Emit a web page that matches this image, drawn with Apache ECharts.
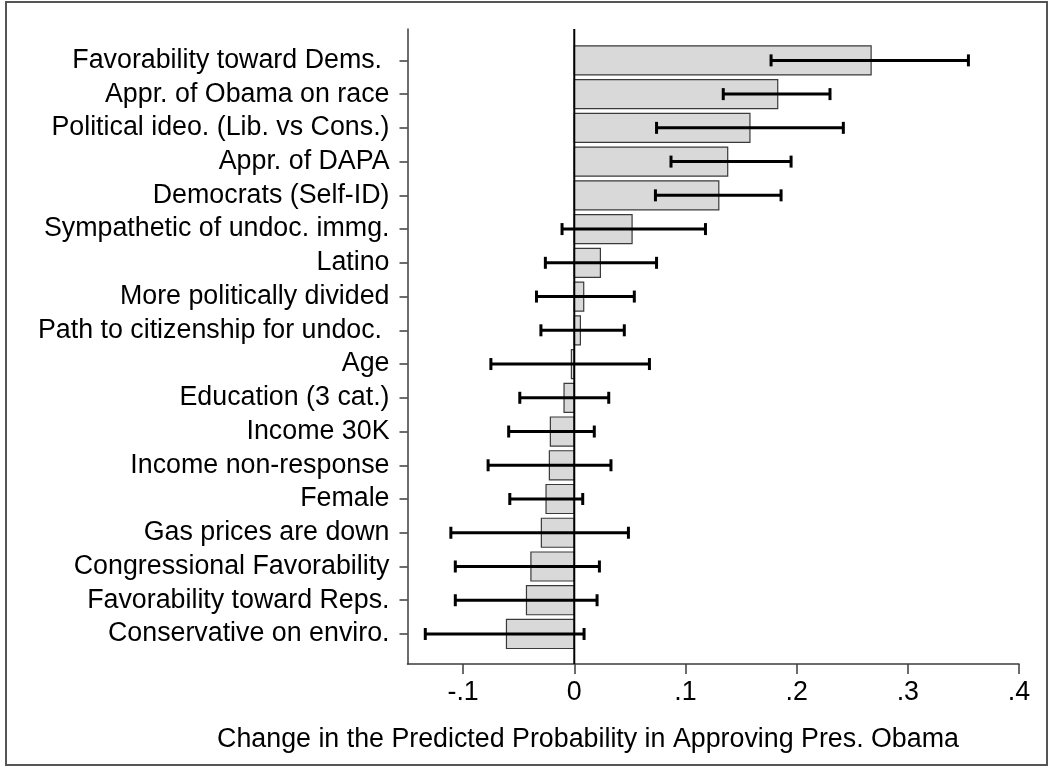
<!DOCTYPE html>
<html>
<head>
<meta charset="utf-8">
<script src="https://cdn.jsdelivr.net/npm/echarts@6/dist/echarts.min.js"></script>
<style>html,body{margin:0;padding:0;background:#fff;}#c{width:1051px;height:767px;}</style>
</head>
<body>
<div id="c"></div>
<script>
var categories = [
  "Favorability toward Dems. ",
  "Appr. of Obama on race",
  "Political ideo. (Lib. vs Cons.)",
  "Appr. of DAPA",
  "Democrats (Self-ID)",
  "Sympathetic of undoc. immg.",
  "Latino",
  "More politically divided",
  "Path to citizenship for undoc. ",
  "Age",
  "Education (3 cat.)",
  "Income 30K",
  "Income non-response",
  "Female",
  "Gas prices are down",
  "Congressional Favorability",
  "Favorability toward Reps.",
  "Conservative on enviro."
];
var estimates = [0.267, 0.183, 0.158, 0.138, 0.130, 0.052, 0.0235, 0.0085, 0.0055, -0.0026, -0.0092, -0.0215, -0.0224, -0.0254, -0.0296, -0.039, -0.043, -0.061];
var lower = [0.177, 0.134, 0.074, 0.087, 0.073, -0.011, -0.026, -0.034, -0.030, -0.075, -0.049, -0.059, -0.0775, -0.058, -0.111, -0.107, -0.107, -0.134];
var upper = [0.3545, 0.230, 0.242, 0.195, 0.186, 0.118, 0.074, 0.054, 0.045, 0.0676, 0.031, 0.018, 0.033, 0.0076, 0.0487, 0.0226, 0.0205, 0.0088];
var xTickValues = [-0.1, 0, 0.1, 0.2, 0.3, 0.4];
var xTickLabels = ["-.1", "0", ".1", ".2", ".3", ".4"];
var xTitle = "Change in the Predicted Probability in Approving Pres. Obama";

var FONT = "'Liberation Sans', Arial, Helvetica, sans-serif";
var FS = 26.8;
var catIdx = categories.map(function (c, i) { return i; });
var barHalf = 0.43;
var yMin = -0.93, yMax = 17.89;

var barData = estimates.map(function (v, i) { return [v, i]; });
var ciData = estimates.map(function (v, i) { return [lower[i], upper[i], i]; });

var chart = echarts.init(document.getElementById('c'), null, { renderer: 'canvas' });
chart.setOption({
  animation: false,
  backgroundColor: '#ffffff',
  grid: { left: 407.5, top: 29, right: 32, bottom: 103, containLabel: false },
  xAxis: {
    type: 'value', min: -0.15, max: 0.4,
    axisLine: { show: true, onZero: false, lineStyle: { color: '#3c3c3c', width: 1.5 } },
    axisTick: { show: true, length: 10, customValues: xTickValues, lineStyle: { color: '#3c3c3c', width: 1.5 } },
    axisLabel: {
      customValues: xTickValues, margin: 15, fontSize: FS, color: '#000', fontFamily: FONT,
      formatter: function (v) {
        for (var k = 0; k < xTickValues.length; k++) { if (Math.abs(xTickValues[k] - v) < 1e-9) return xTickLabels[k]; }
        return '';
      }
    },
    splitLine: { show: false }
  },
  yAxis: {
    type: 'value', inverse: true, min: yMin, max: yMax,
    axisLine: { show: true, onZero: false, lineStyle: { color: '#3c3c3c', width: 1.5 } },
    axisTick: { show: true, length: 8, customValues: catIdx, lineStyle: { color: '#3c3c3c', width: 1.5 } },
    axisLabel: {
      customValues: catIdx, margin: 18, fontSize: FS, color: '#000', fontFamily: FONT,
      formatter: function (v) { return categories[Math.round(v)]; }
    },
    splitLine: { show: false }
  },
  graphic: [
    { type: 'rect', shape: { x: 6, y: 2, width: 1041, height: 763 }, style: { fill: 'none', stroke: '#555', lineWidth: 2 }, silent: true, z: 0 },
    { type: 'text', x: 588, y: 740, style: { text: xTitle, font: FS + "px " + FONT, fill: '#000', textAlign: 'center', textVerticalAlign: 'middle' }, silent: true }
  ],
  series: [
    {
      type: 'custom', z: 2, data: barData,
      renderItem: function (params, api) {
        var v = api.value(0), i = api.value(1);
        var p0 = api.coord([0, i - barHalf]);
        var p1 = api.coord([v, i + barHalf]);
        var x = Math.min(p0[0], p1[0]), w = Math.abs(p1[0] - p0[0]);
        var y = Math.min(p0[1], p1[1]), h = Math.abs(p1[1] - p0[1]);
        return { type: 'rect', shape: { x: x, y: y, width: w, height: h }, style: { fill: '#d9d9d9', stroke: '#3a3a3a', lineWidth: 1.2 } };
      }
    },
    {
      type: 'custom', z: 3, data: [[0]],
      renderItem: function (params, api) {
        var a = api.coord([0, yMin]), b = api.coord([0, yMax]);
        return { type: 'line', shape: { x1: a[0], y1: a[1], x2: b[0], y2: b[1] }, style: { stroke: '#000', lineWidth: 2 } };
      }
    },
    {
      type: 'custom', z: 4, data: ciData,
      renderItem: function (params, api) {
        var lo = api.coord([api.value(0), api.value(2)]);
        var hi = api.coord([api.value(1), api.value(2)]);
        var cap = 6;
        var st = { stroke: '#000', lineWidth: 3 };
        return {
          type: 'group', children: [
            { type: 'line', shape: { x1: lo[0], y1: lo[1], x2: hi[0], y2: hi[1] }, style: st },
            { type: 'line', shape: { x1: lo[0], y1: lo[1] - cap, x2: lo[0], y2: lo[1] + cap }, style: st },
            { type: 'line', shape: { x1: hi[0], y1: hi[1] - cap, x2: hi[0], y2: hi[1] + cap }, style: st }
          ]
        };
      }
    }
  ]
});
</script>
</body>
</html>
